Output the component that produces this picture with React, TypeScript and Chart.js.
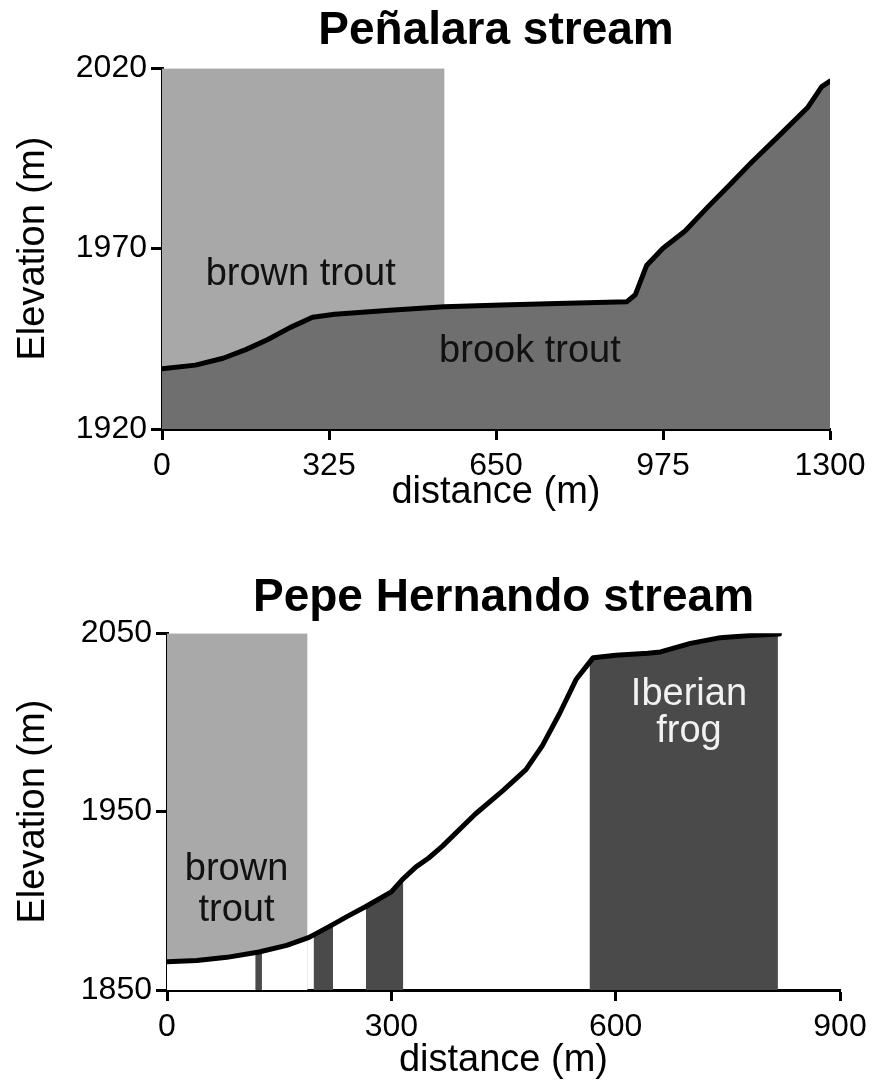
import React, { useEffect, useRef } from 'react';
import { Chart, registerables } from 'chart.js';

Chart.register(...registerables);

const FONT = "'Liberation Sans', Arial, Helvetica, sans-serif";

// ---------- Peñalara stream ----------
const penTitle = 'Peñalara stream';
const penDistance = [0, 65, 119, 163, 206, 249, 293, 336, 444, 549, 661, 769, 905, 921, 943, 975, 1018, 1062, 1105, 1148, 1203, 1257, 1284, 1300];
const penElevation = [1936.7, 1937.7, 1939.6, 1942, 1944.8, 1948.1, 1951, 1951.8, 1952.9, 1953.9, 1954.4, 1954.8, 1955.3, 1957.2, 1965.3, 1970.1, 1974.9, 1981.5, 1987.7, 1994, 2001.6, 2009.2, 2014.9, 2016.4];
const penXTicks = [0, 325, 650, 975, 1300];
const penYTicks = [1920, 1970, 2020];
const penBrownTrout = [0, 550];

// ---------- Pepe Hernando stream ----------
const pepeTitle = 'Pepe Hernando stream';
const pepeDistance = [0, 40, 80, 123, 160, 190, 221, 240, 266, 300, 315, 333, 350, 368, 412, 450, 480, 502, 525, 547, 560, 570, 600, 643, 660, 700, 740, 780, 819];
const pepeElevation = [1865.8, 1866.5, 1868.3, 1871.3, 1875, 1879.5, 1886.5, 1891, 1896.8, 1905, 1912, 1919, 1924, 1930.5, 1948.5, 1962, 1973.5, 1987, 2005, 2024, 2031, 2036.3, 2037.6, 2038.7, 2039.5, 2044.3, 2047.5, 2048.7, 2049.5];
const pepeXTicks = [0, 300, 600, 900];
const pepeYTicks = [1850, 1950, 2050];
const pepeBrownTrout = [0, 188];
const pepeFrogStart = [118, 196, 266, 565];
const pepeFrogEnd = [127, 222, 316, 817];

// ---------- helpers ----------
function interp(xs: number[], ys: number[], x: number) {
  for (let i = 0; i < xs.length - 1; i++) {
    if (x >= xs[i] && x <= xs[i + 1]) {
      const t = (x - xs[i]) / (xs[i + 1] - xs[i]);
      return ys[i] + t * (ys[i + 1] - ys[i]);
    }
  }
  return ys[ys.length - 1];
}
function slice(xs: number[], ys: number[], a: number, b: number) {
  const pts = [{ x: a, y: interp(xs, ys, a) }];
  xs.forEach((x, i) => {
    if (x > a && x < b) pts.push({ x, y: ys[i] });
  });
  pts.push({ x: b, y: interp(xs, ys, b) });
  return pts;
}
const toPts = (xs: number[], ys: number[]) => xs.map((x, i) => ({ x, y: ys[i] }));

type Label = { text: string; x: number; y: number; color: string };

const labelPlugin = (labels: Label[]) => ({
  id: 'areaLabels',
  afterDatasetsDraw(chart: any) {
    const { ctx } = chart;
    const xs = chart.scales.x;
    const ys = chart.scales.y;
    ctx.save();
    ctx.font = `38px ${FONT}`;
    ctx.textAlign = 'center';
    ctx.textBaseline = 'alphabetic';
    labels.forEach((l) => {
      ctx.fillStyle = l.color;
      ctx.fillText(l.text, xs.getPixelForValue(l.x), ys.getPixelForValue(l.y));
    });
    ctx.restore();
  },
});

function makeOptions(cfg: {
  title: string;
  titlePad: { top: number; bottom: number };
  xMin: number; xMax: number; xTicks: number[];
  yMin: number; yMax: number; yTicks: number[];
  yWidth: number; xHeight: number; rightPad: number; xTitlePad: number;
}) {
  const grid = {
    display: true,
    drawOnChartArea: false,
    drawTicks: true,
    tickLength: 11,
    tickWidth: 3,
    tickColor: '#000',
  };
  const border = { display: true, width: 3, color: '#000' };
  const plain = (v: any) => String(v);
  return {
    responsive: false,
    animation: false,
    maintainAspectRatio: false,
    layout: { padding: { left: 0, right: cfg.rightPad, top: 0, bottom: 0 } },
    plugins: {
      legend: { display: false },
      tooltip: { enabled: false },
      title: {
        display: true,
        text: cfg.title,
        fullSize: false,
        color: '#000',
        font: { family: FONT, size: 46, weight: 'bold', lineHeight: 1.2 },
        padding: cfg.titlePad,
      },
    },
    elements: { point: { radius: 0 } },
    scales: {
      x: {
        type: 'linear',
        min: cfg.xMin,
        max: cfg.xMax,
        z: 1,
        grid,
        border,
        afterBuildTicks: (s: any) => { s.ticks = cfg.xTicks.map((v) => ({ value: v })); },
        afterFit: (s: any) => { s.height = cfg.xHeight; },
        ticks: { color: '#000', padding: 7, maxRotation: 0, autoSkip: false, callback: plain, font: { family: FONT, size: 32 } },
        title: {
          display: true,
          text: 'distance (m)',
          color: '#000',
          font: { family: FONT, size: 38, lineHeight: 1.2 },
          padding: { top: 0, bottom: cfg.xTitlePad },
        },
      },
      y: {
        type: 'linear',
        min: cfg.yMin,
        max: cfg.yMax,
        z: 1,
        grid,
        border,
        afterBuildTicks: (s: any) => { s.ticks = cfg.yTicks.map((v) => ({ value: v })); },
        afterFit: (s: any) => { s.width = cfg.yWidth; },
        ticks: { color: '#000', padding: 4, autoSkip: false, callback: plain, font: { family: FONT, size: 32 } },
        title: {
          display: true,
          text: 'Elevation (m)',
          color: '#000',
          font: { family: FONT, size: 38, lineHeight: 1.2 },
          padding: { top: 11, bottom: 0 },
        },
      },
    },
  } as any;
}

function PenalaraChart() {
  const ref = useRef<HTMLCanvasElement>(null);
  useEffect(() => {
    if (!ref.current) return;
    const chart = new Chart(ref.current, {
      type: 'line',
      data: {
        datasets: [
          {
            label: 'profile',
            data: toPts(penDistance, penElevation),
            borderColor: '#000',
            borderWidth: 5,
            borderJoinStyle: 'round',
            borderCapStyle: 'round',
            backgroundColor: '#6f6f6f',
            fill: 'start',
            order: 1,
          },
          {
            label: 'brown trout',
            data: [
              { x: penBrownTrout[0], y: penYTicks[penYTicks.length - 1] },
              { x: penBrownTrout[1], y: penYTicks[penYTicks.length - 1] },
            ],
            borderWidth: 0,
            borderColor: 'rgba(0,0,0,0)',
            backgroundColor: '#a8a8a8',
            fill: 'start',
            order: 2,
          },
        ] as any,
      },
      options: makeOptions({
        title: penTitle,
        titlePad: { top: 4, bottom: 9 },
        xMin: 0, xMax: 1300, xTicks: penXTicks,
        yMin: 1920, yMax: 2020, yTicks: penYTicks,
        yWidth: 162, xHeight: 111, rightPad: 46, xTitlePad: 25,
      }),
      plugins: [
        labelPlugin([
          { text: 'brown trout', x: 270, y: 1959.9, color: '#111' },
          { text: 'brook trout', x: 716, y: 1938.6, color: '#111' },
        ]),
      ],
    });
    return () => chart.destroy();
  }, []);
  return <canvas ref={ref} width={876} height={540} style={{ position: 'absolute', left: 0, top: 0, width: 876, height: 540 }} />;
}

function PepeChart() {
  const ref = useRef<HTMLCanvasElement>(null);
  useEffect(() => {
    if (!ref.current) return;
    const top = pepeYTicks[pepeYTicks.length - 1];
    const bands = pepeFrogStart.map((a, i) => ({
      label: 'Iberian frog',
      data: slice(pepeDistance, pepeElevation, a, pepeFrogEnd[i]),
      borderWidth: 0,
      borderColor: 'rgba(0,0,0,0)',
      backgroundColor: '#4a4a4a',
      fill: 'start',
      order: 1,
    }));
    const chart = new Chart(ref.current, {
      type: 'line',
      data: {
        datasets: [
          {
            label: 'profile',
            data: toPts(pepeDistance, pepeElevation),
            borderColor: '#000',
            borderWidth: 5,
            borderJoinStyle: 'round',
            borderCapStyle: 'round',
            fill: false,
            order: 0,
          },
          ...bands,
          {
            label: 'below profile',
            data: slice(pepeDistance, pepeElevation, pepeBrownTrout[0], pepeBrownTrout[1]),
            borderWidth: 0,
            borderColor: 'rgba(0,0,0,0)',
            backgroundColor: '#ffffff',
            fill: 'start',
            order: 2,
          },
          {
            label: 'brown trout',
            data: [
              { x: pepeBrownTrout[0], y: top },
              { x: pepeBrownTrout[1], y: top },
            ],
            borderWidth: 0,
            borderColor: 'rgba(0,0,0,0)',
            backgroundColor: '#a9a9a9',
            fill: 'start',
            order: 3,
          },
        ] as any,
      },
      options: makeOptions({
        title: pepeTitle,
        titlePad: { top: 31, bottom: 7 },
        xMin: 0, xMax: 900, xTicks: pepeXTicks,
        yMin: 1850, yMax: 2050, yTicks: pepeYTicks,
        yWidth: 167, xHeight: 94, rightPad: 36, xTitlePad: 1,
      }),
      plugins: [
        labelPlugin([
          { text: 'brown', x: 93, y: 1911.8, color: '#111' },
          { text: 'trout', x: 93, y: 1888.8, color: '#111' },
          { text: 'Iberian', x: 698, y: 2009.6, color: '#f2f2f2' },
          { text: 'frog', x: 698, y: 1988.8, color: '#f2f2f2' },
        ]),
      ],
    });
    return () => chart.destroy();
  }, []);
  return <canvas ref={ref} width={876} height={544} style={{ position: 'absolute', left: 0, top: 540, width: 876, height: 544 }} />;
}

export default function App() {
  return (
    <div style={{ position: 'absolute', left: 0, top: 0, width: 876, height: 1084, overflow: 'hidden', background: '#fff' }}>
      <PenalaraChart />
      <PepeChart />
    </div>
  );
}
